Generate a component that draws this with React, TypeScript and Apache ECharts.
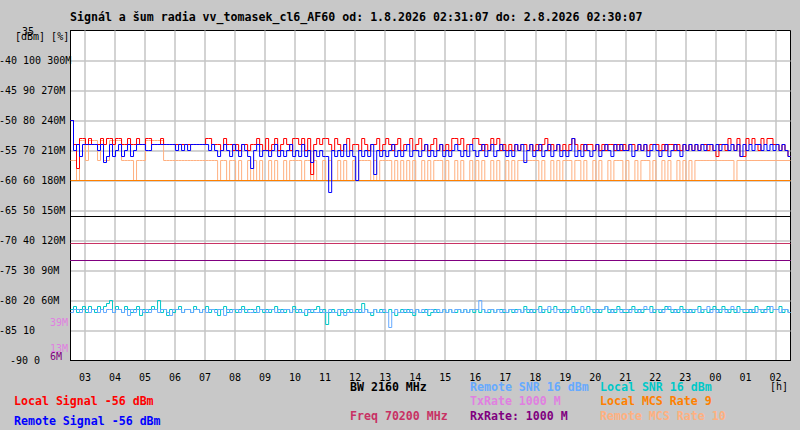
import React, { useEffect, useRef } from "react";
import * as echarts from "echarts";

const TITLE =
  "Signál a šum radia vv_tomasek_cl6_AF60 od: 1.8.2026 02:31:07 do: 2.8.2026 02:30:07";

const START = new Date(2026, 7, 1, 2, 31, 7).getTime();
const END = new Date(2026, 7, 2, 2, 30, 7).getTime();
const FIRST_HOUR = new Date(2026, 7, 1, 3, 0, 0).getTime();
const STEP_MS = 6 * 60 * 1000;
const HOUR_MS = 3600 * 1000;

const HOUR_LABELS = [
  "03", "04", "05", "06", "07", "08", "09", "10", "11", "12", "13", "14",
  "15", "16", "17", "18", "19", "20", "21", "22", "23", "00", "01", "02",
];

// left axis columns
const DBM_TICKS = [-90, -85, -80, -75, -70, -65, -60, -55, -50, -45, -40, -35];
const PCT_TICKS = ["0", "10", "20", "30", "40", "50", "60", "70", "80", "90", "100", ""];
const RATE_TICKS = ["", "", "60M", "90M", "120M", "150M", "180M", "210M", "240M", "270M", "300M", ""];

// constant values
const BW_MHZ = 2160;
const FREQ_MHZ = 70200;
const TX_RATE = 1000;
const RX_RATE = 1000;
const LOCAL_MCS = 9;

// 6-minute samples, 240 per day
const localSignal = [
  -50, -54, -58, -53, -53,
  -54, -53, -54, -54, -54, -53, -54, -53, -53, -54,
  -53, -53, -54, -54, -53, -54, -54, -53, -54, -54,
  -53, -53, -54, -54, -54, -53, -54, -54, -54, -54,
  -54, -54, -54, -54, -54, -54, -54, -54, -54, -54,
  -53, -53, -54, -54, -54, -55, -53, -54, -54, -55,
  -54, -55, -54, -54, -55, -54, -54, -53, -54, -55,
  -53, -55, -54, -53, -55, -54, -53, -54, -55, -53,
  -53, -54, -53, -55, -53, -59, -54, -53, -54, -53,
  -53, -54, -55, -53, -54, -55, -54, -53, -55, -54,
  -54, -55, -53, -54, -55, -54, -54, -53, -55, -54,
  -53, -54, -55, -54, -53, -55, -54, -54, -53, -55,
  -54, -53, -55, -54, -55, -54, -53, -55, -54, -55,
  -54, -55, -53, -53, -54, -53, -55, -54, -54, -53,
  -53, -54, -55, -54, -55, -53, -54, -53, -55, -54,
  -55, -54, -55, -54, -55, -54, -54, -55, -54, -55,
  -54, -55, -54, -53, -55, -54, -55, -54, -55, -54,
  -55, -54, -53, -54, -55, -54, -55, -54, -54, -55,
  -54, -55, -54, -55, -54, -54, -55, -54, -55, -54,
  -55, -54, -54, -55, -54, -55, -54, -55, -54, -54,
  -54, -55, -54, -55, -54, -54, -55, -54, -55, -54,
  -55, -54, -55, -54, -55, -54, -54, -55, -54, -55,
  -56, -54, -54, -55, -53, -54, -55, -53, -56, -56,
  -53, -54, -53, -54, -55, -53, -54, -53, -53, -54,
  -54, -55, -54, -55, -56,
];

const remoteSignal = [
  -50, -55, -54, -56, -54,
  -54, -54, -54, -54, -55, -54, -57, -56, -54, -56,
  -55, -54, -56, -55, -54, -56, -55, -54, -54, -54,
  -55, -55, -54, -54, -54, -54, -54, -54, -54, -54,
  -55, -54, -55, -54, -55, -54, -54, -54, -54, -54,
  -54, -55, -54, -55, -56, -55, -54, -55, -56, -54,
  -55, -56, -54, -55, -56, -58, -55, -54, -56, -55,
  -55, -56, -55, -54, -56, -55, -56, -55, -54, -56,
  -55, -56, -54, -56, -55, -57, -55, -56, -55, -56,
  -56, -62, -55, -56, -55, -56, -54, -56, -55, -56,
  -60, -55, -56, -55, -56, -54, -59, -55, -56, -55,
  -56, -55, -54, -56, -55, -56, -55, -54, -56, -55,
  -55, -56, -55, -54, -56, -55, -56, -55, -54, -56,
  -55, -56, -55, -54, -55, -56, -55, -56, -54, -55,
  -56, -55, -54, -56, -55, -54, -56, -55, -54, -55,
  -56, -55, -56, -54, -55, -54, -57, -55, -54, -56,
  -55, -54, -56, -55, -54, -56, -55, -54, -56, -55,
  -56, -55, -53, -56, -55, -56, -54, -55, -56, -55,
  -54, -56, -55, -54, -55, -56, -54, -55, -54, -55,
  -55, -54, -56, -55, -54, -55, -54, -56, -55, -54,
  -55, -56, -55, -54, -56, -55, -54, -55, -56, -54,
  -55, -54, -55, -54, -55, -54, -55, -54, -54, -55,
  -54, -55, -54, -54, -55, -54, -55, -54, -56, -54,
  -55, -54, -55, -54, -54, -55, -54, -55, -54, -55,
  -54, -55, -54, -55, -56,
];

const remoteMcs = [
  10, 10, 9, 11, 11,
  10, 11, 11, 11, 10, 11, 10, 10, 11, 11,
  11, 11, 10, 10, 10, 10, 9, 10, 10, 10,
  11, 11, 11, 11, 11, 11, 10, 10, 10, 10,
  10, 10, 10, 10, 10, 10, 10, 10, 10, 10,
  10, 10, 10, 10, 9, 10, 10, 9, 10, 10,
  9, 10, 9, 9, 10, 9, 10, 9, 10, 9,
  9, 10, 9, 10, 9, 9, 10, 9, 10, 10,
  10, 10, 9, 10, 10, 9, 10, 9, 9, 10,
  9, 10, 9, 9, 10, 9, 10, 9, 9, 10,
  9, 10, 10, 10, 10, 9, 10, 9, 10, 10,
  10, 10, 9, 10, 9, 10, 9, 10, 9, 10,
  9, 9, 10, 9, 10, 9, 10, 10, 10, 9,
  10, 9, 9, 10, 9, 10, 9, 9, 10, 9,
  10, 9, 10, 9, 9, 10, 9, 10, 9, 9,
  10, 9, 10, 9, 10, 10, 10, 10, 10, 10,
  10, 9, 10, 9, 9, 10, 9, 10, 9, 10,
  10, 10, 9, 10, 10, 9, 10, 9, 9, 10,
  9, 10, 9, 9, 10, 9, 10, 10, 10, 9,
  10, 9, 9, 10, 9, 10, 10, 10, 9, 10,
  9, 9, 10, 9, 10, 9, 9, 10, 9, 10,
  9, 10, 9, 10, 10, 10, 10, 10, 10, 10,
  10, 10, 10, 10, 10, 10, 9, 10, 10, 10,
  10, 10, 10, 10, 10, 10, 10, 10, 10, 10,
  10, 10, 10, 10, 10,
];

const remoteSnr = [
  16, 17, 17, 16, 17,
  17, 16, 17, 17, 16, 17, 16, 17, 17, 16,
  17, 17, 16, 17, 15, 17, 16, 17, 17, 16,
  17, 16, 17, 17, 16, 17, 17, 16, 15, 17,
  17, 17, 16, 17, 17, 16, 17, 17, 16, 17,
  16, 17, 17, 16, 17, 17, 15, 17, 16, 17,
  17, 16, 17, 17, 16, 16, 17, 16, 17, 17,
  16, 17, 17, 16, 17, 16, 17, 17, 16, 17,
  17, 16, 16, 17, 16, 17, 16, 16, 17, 16,
  16, 17, 16, 16, 17, 16, 15, 16, 17, 16,
  16, 17, 16, 17, 16, 16, 17, 16, 16, 17,
  16, 11, 16, 17, 16, 16, 17, 16, 17, 16,
  17, 16, 17, 16, 17, 17, 16, 17, 16, 17,
  16, 17, 16, 17, 17, 16, 17, 16, 17, 17,
  17, 20, 17, 16, 17, 17, 16, 17, 16, 17,
  16, 17, 17, 16, 17, 16, 17, 17, 16, 17,
  17, 16, 17, 17, 18, 17, 16, 17, 17, 16,
  17, 17, 16, 17, 17, 18, 17, 16, 17, 17,
  16, 17, 17, 18, 17, 16, 17, 17, 16, 17,
  17, 16, 17, 17, 16, 17, 18, 17, 16, 17,
  17, 17, 16, 17, 18, 17, 16, 17, 17, 16,
  17, 16, 17, 17, 16, 17, 17, 18, 16, 17,
  16, 17, 17, 16, 17, 18, 17, 16, 17, 17,
  17, 16, 17, 16, 17, 17, 16, 17, 18, 17,
  17, 16, 17, 17, 16,
];

const localSnr = [
  17, 18, 16, 17, 18,
  16, 18, 17, 16, 18, 17, 18, 19, 20, 16,
  18, 17, 16, 18, 17, 16, 17, 18, 15, 17,
  16, 17, 18, 17, 20, 16, 17, 15, 17, 16,
  17, 18, 16, 17, 17, 16, 18, 17, 16, 17,
  18, 16, 17, 17, 15, 17, 18, 16, 17, 17,
  16, 17, 18, 16, 17, 17, 16, 18, 17, 16,
  17, 16, 17, 18, 16, 17, 16, 17, 16, 18,
  16, 17, 16, 15, 17, 16, 17, 18, 16, 17,
  12, 16, 17, 16, 15, 17, 16, 17, 16, 16,
  17, 16, 19, 17, 16, 15, 17, 16, 17, 16,
  16, 17, 16, 15, 16, 17, 16, 17, 16, 15,
  17, 16, 16, 17, 15, 16, 17, 16, 16, 17,
  16, 17, 16, 16, 17, 16, 17, 16, 17, 16,
  17, 16, 17, 16, 16, 17, 16, 17, 17, 16,
  16, 17, 16, 17, 17, 16, 18, 16, 17, 16,
  17, 18, 16, 17, 16, 17, 18, 17, 16, 17,
  16, 17, 18, 16, 17, 16, 17, 18, 17, 16,
  17, 16, 17, 18, 16, 17, 16, 18, 17, 16,
  16, 17, 18, 16, 17, 16, 17, 17, 18, 16,
  17, 16, 17, 18, 17, 16, 17, 16, 18, 17,
  16, 17, 16, 17, 18, 16, 17, 16, 17, 18,
  17, 16, 18, 17, 16, 17, 16, 18, 17, 16,
  16, 17, 16, 18, 17, 16, 17, 18, 16, 17,
  17, 18, 16, 17, 16,
];

const MONO = "'DejaVu Sans Mono', 'Liberation Mono', monospace";
const BOLD = `bold 11.6px ${MONO}`;
const REG = `10px ${MONO}`;

const last = (a: number[]) => a[a.length - 1];

function toSeries(values: number[]) {
  const d: [number, number][] = values.map((v, i) => [START + i * STEP_MS, v]);
  d.push([END, last(values)]);
  return d;
}
function flat(v: number) {
  return [
    [START, v],
    [END, v],
  ];
}

function leftLabel(v: number) {
  const k = DBM_TICKS.indexOf(v);
  if (k < 0) return "";
  if (v === -35) return "{t|-35}";
  const parts = [String(v), PCT_TICKS[k]];
  if (RATE_TICKS[k]) parts.push(RATE_TICKS[k]);
  const s = parts.join(" ");
  if (v === -90) return "{b|" + s + "}";
  return s;
}

function txt(text: string, x: number, y: number, fill: string, font: string) {
  return {
    type: "text",
    x,
    y,
    silent: true,
    z: 100,
    style: { text, fill, font, textVerticalAlign: "middle", verticalAlign: "middle", align: "left" },
  };
}

function lineSeries(name: string, data: any, color: string, yAxisIndex: number, step: boolean) {
  return {
    name,
    type: "line",
    data,
    yAxisIndex,
    step: step ? "end" : false,
    symbol: "none",
    showSymbol: false,
    silent: true,
    lineStyle: { color, width: 1 },
    emphasis: { disabled: true },
  };
}

export default function App() {
  const ref = useRef<HTMLDivElement>(null);
  useEffect(() => {
    document.body.style.margin = "0";
    if (!ref.current) return;
    const chart = echarts.init(ref.current, undefined, { renderer: "svg" });
    const option: any = {
      animation: false,
      backgroundColor: "#c8c8c8",
      title: {
        text: TITLE,
        left: 70,
        top: 11,
        padding: 0,
        textStyle: { fontFamily: MONO, fontSize: 11.6, fontWeight: "bold", color: "#000" },
      },
      grid: {
        left: 70.5,
        top: 30.5,
        width: 720,
        height: 330,
        show: true,
        backgroundColor: "#ffffff",
        borderColor: "#000",
        borderWidth: 1,
        containLabel: false,
        outerBoundsMode: "none",
      },
      xAxis: {
        type: "time",
        min: START,
        max: END,
        splitNumber: 24,
        minInterval: HOUR_MS,
        maxInterval: HOUR_MS,
        axisLine: { show: true, lineStyle: { color: "#000", width: 1 } },
        axisTick: { show: false },
        splitLine: {
          show: true,
          showMinLine: false,
          showMaxLine: false,
          lineStyle: { color: "#c4c4c4", width: 1.5 },
        },
        axisLabel: {
          show: true,
          margin: 12,
          hideOverlap: false,
          fontFamily: MONO,
          fontSize: 10,
          color: "#000",
          formatter: (val: number) => {
            const off = val - FIRST_HOUR;
            if (off < 0 || off % HOUR_MS !== 0) return "";
            return HOUR_LABELS[off / HOUR_MS] ?? "";
          },
        },
      },
      yAxis: [
        {
          type: "value",
          min: -90,
          max: -35,
          interval: 5,
          position: "left",
          axisLine: { show: true, lineStyle: { color: "#000", width: 1 } },
          axisTick: { show: false },
          splitLine: {
            show: true,
            showMinLine: false,
            showMaxLine: false,
            lineStyle: { color: "#c4c4c4", width: 1.5 },
          },
          axisLabel: {
            show: true,
            align: "left",
            margin: 71.5,
            fontFamily: MONO,
            fontSize: 10,
            color: "#000",
            formatter: leftLabel,
            rich: {
              t: { fontFamily: MONO, fontSize: 10, color: "#000", padding: [2, 0, 0, 17] },
              b: { fontFamily: MONO, fontSize: 10, color: "#000", padding: [0, 0, 0, 11] },
            },
          },
        },
        { type: "value", min: 0, max: 110, show: false },
        { type: "value", min: 0, max: 16.5, show: false },
        { type: "value", min: 0, max: 3300, show: false },
        { type: "value", min: 0, max: 4950, show: false },
        { type: "value", min: 0, max: 198000, show: false },
      ],
      series: [
        lineSeries("Remote MCS", toSeries(remoteMcs), "#ffb080", 2, true),
        lineSeries("Local MCS", flat(LOCAL_MCS), "#ff8000", 2, false),
        lineSeries("BW", flat(BW_MHZ), "#000000", 4, false),
        lineSeries("Freq", flat(FREQ_MHZ), "#c83264", 5, false),
        lineSeries("TxRate", flat(TX_RATE), "#e080e0", 3, false),
        lineSeries("RxRate", flat(RX_RATE), "#800080", 3, false),
        lineSeries("Local SNR", toSeries(localSnr), "#00c8c8", 1, true),
        lineSeries("Remote SNR", toSeries(remoteSnr), "#66aaff", 1, true),
        lineSeries("Local Signal", toSeries(localSignal), "#ff0000", 0, true),
        lineSeries("Remote Signal", toSeries(remoteSignal), "#0000ff", 0, true),
      ],
      graphic: [
        txt("[dBm] [%]", 15, 36, "#000", REG),
        txt("39M", 50, 322, "#e080e0", REG),
        txt("13M", 50, 348, "#e080e0", REG),
        txt("6M", 50, 356, "#800080", REG),
        txt("[h]", 770, 386, "#000", REG),
        txt(`BW ${BW_MHZ} MHz`, 350, 387, "#000000", BOLD),
        txt(`Remote SNR ${last(remoteSnr)} dBm`, 470, 387, "#66aaff", BOLD),
        txt(`Local SNR ${last(localSnr)} dBm`, 600, 387, "#00c8c8", BOLD),
        txt(`Local Signal ${last(localSignal)} dBm`, 14, 401, "#ff0000", BOLD),
        txt(`TxRate ${TX_RATE} M`, 470, 401, "#e080e0", BOLD),
        txt(`Local MCS Rate ${LOCAL_MCS}`, 600, 401, "#ff8000", BOLD),
        txt(`Freq ${FREQ_MHZ} MHz`, 350, 416, "#c83264", BOLD),
        txt(`RxRate: ${RX_RATE} M`, 470, 416, "#800080", BOLD),
        txt(`Remote MCS Rate ${last(remoteMcs)}`, 600, 416, "#ffb080", BOLD),
        txt(`Remote Signal ${last(remoteSignal)} dBm`, 14, 421, "#0000ff", BOLD),
      ],
    };
    chart.setOption(option);
    return () => chart.dispose();
  }, []);
  return <div ref={ref} style={{ width: 800, height: 430, position: "absolute", left: 0, top: 0 }} />;
}
